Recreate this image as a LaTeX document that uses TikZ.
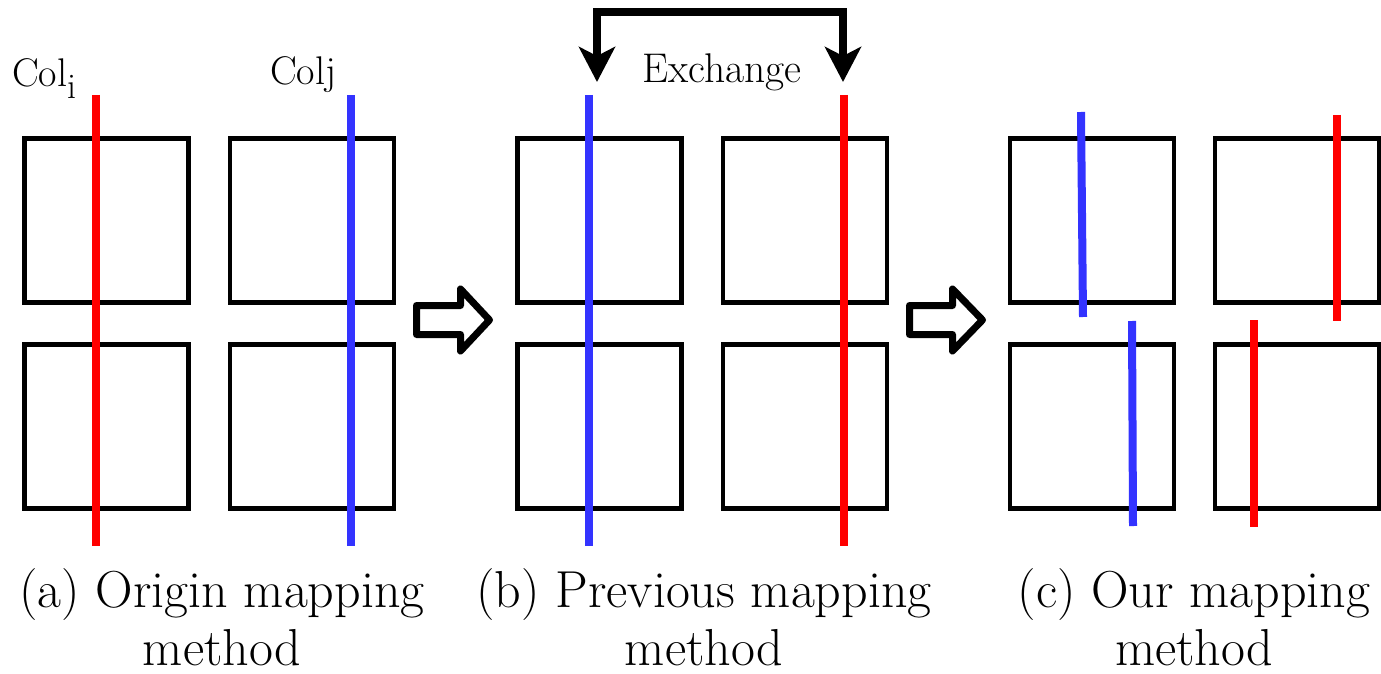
\documentclass[tikz,border=0pt]{standalone}
\usetikzlibrary{arrows.meta}
\definecolor{cred}{RGB}{255,0,0}
\definecolor{cblue}{RGB}{51,51,255}
\begin{document}
\begin{tikzpicture}[x=1pt,y=-1pt,
  cell/.style={draw=black, line width=4.5pt, minimum width=164pt, minimum height=164pt, inner sep=0pt},
  wire/.style={line width=8pt},
  hollow/.style={draw=black, line width=7pt, line join=round, fill=white},
  capt/.style={font=\fontsize{52}{56}\selectfont, anchor=base, inner sep=0pt},
  lab/.style={font=\fontsize{40}{44}\selectfont, anchor=base west, inner sep=0pt},
  exch/.style={line width=8pt, {Stealth[length=35pt,width=36pt,inset=9pt]}-{Stealth[length=35pt,width=36pt,inset=9pt]}}]
\useasboundingbox (0,0) rectangle (1381,674);

% (a) cells
\node[cell] (a11) at (106.5,220.5) {};
\node[cell] (a12) at (312,220.5) {};
\node[cell] (a21) at (106.5,426.5) {};
\node[cell] (a22) at (312,426.5) {};
% (b) cells
\node[cell] (b11) at (599.5,220.5) {};
\node[cell] (b12) at (805,220.5) {};
\node[cell] (b21) at (599.5,426.5) {};
\node[cell] (b22) at (805,426.5) {};
% (c) cells
\node[cell] (c11) at (1092,220.5) {};
\node[cell] (c12) at (1297,220.5) {};
\node[cell] (c21) at (1092,426.5) {};
\node[cell] (c22) at (1297,426.5) {};

% columns
\draw[wire, cred]  (96,95) -- (96,546);
\draw[wire, cblue] (351,95) -- (351,546);
\draw[wire, cblue] (589,95) -- (589,546);
\draw[wire, cred]  (844,95) -- (844,546);
\draw[wire, cblue] (1081,112) -- (1083,317);
\draw[wire, cblue] (1132,321) -- (1133,526);
\draw[wire, cred]  (1337,115) -- (1337,321);
\draw[wire, cred]  (1254,320) -- (1254,527);

% hollow arrows
\draw[hollow, shift={(416.5,320)}] (0,-14.5) -- (44,-14.5) -- (44,-31) -- (73,0) -- (44,31) -- (44,14.5) -- (0,14.5) -- cycle;
\draw[hollow, shift={(909.5,320)}] (0,-14.5) -- (43,-14.5) -- (43,-31) -- (73,0) -- (43,31) -- (43,14.5) -- (0,14.5) -- cycle;

% exchange arrow
\coordinate (xl) at (597,82);
\coordinate (xr) at (843,82);
\draw[exch] (xl) -- ++(0,-70) -| (xr);
\node[font=\fontsize{41.5}{46}\selectfont, anchor=base, inner sep=0pt] (exl) at (722,83) {Exchange};

% labels
\node[lab] (coli) at (12,87) {Col\raisebox{-12pt}{\fontsize{36}{36}\selectfont i}};
\node[lab] (colj) at (270,85) {Colj};

% captions
\node[capt] (ca1) at (222,607) {(a) Origin mapping};
\node[capt] (ca2) at (222,665) {method};
\node[capt] (cb1) at (704,607) {(b) Previous mapping};
\node[capt] (cb2) at (704,665) {method};
\node[capt] (cc1) at (1194,607) {(c) Our mapping};
\node[capt] (cc2) at (1194,665) {method};
\end{tikzpicture}
\end{document}
